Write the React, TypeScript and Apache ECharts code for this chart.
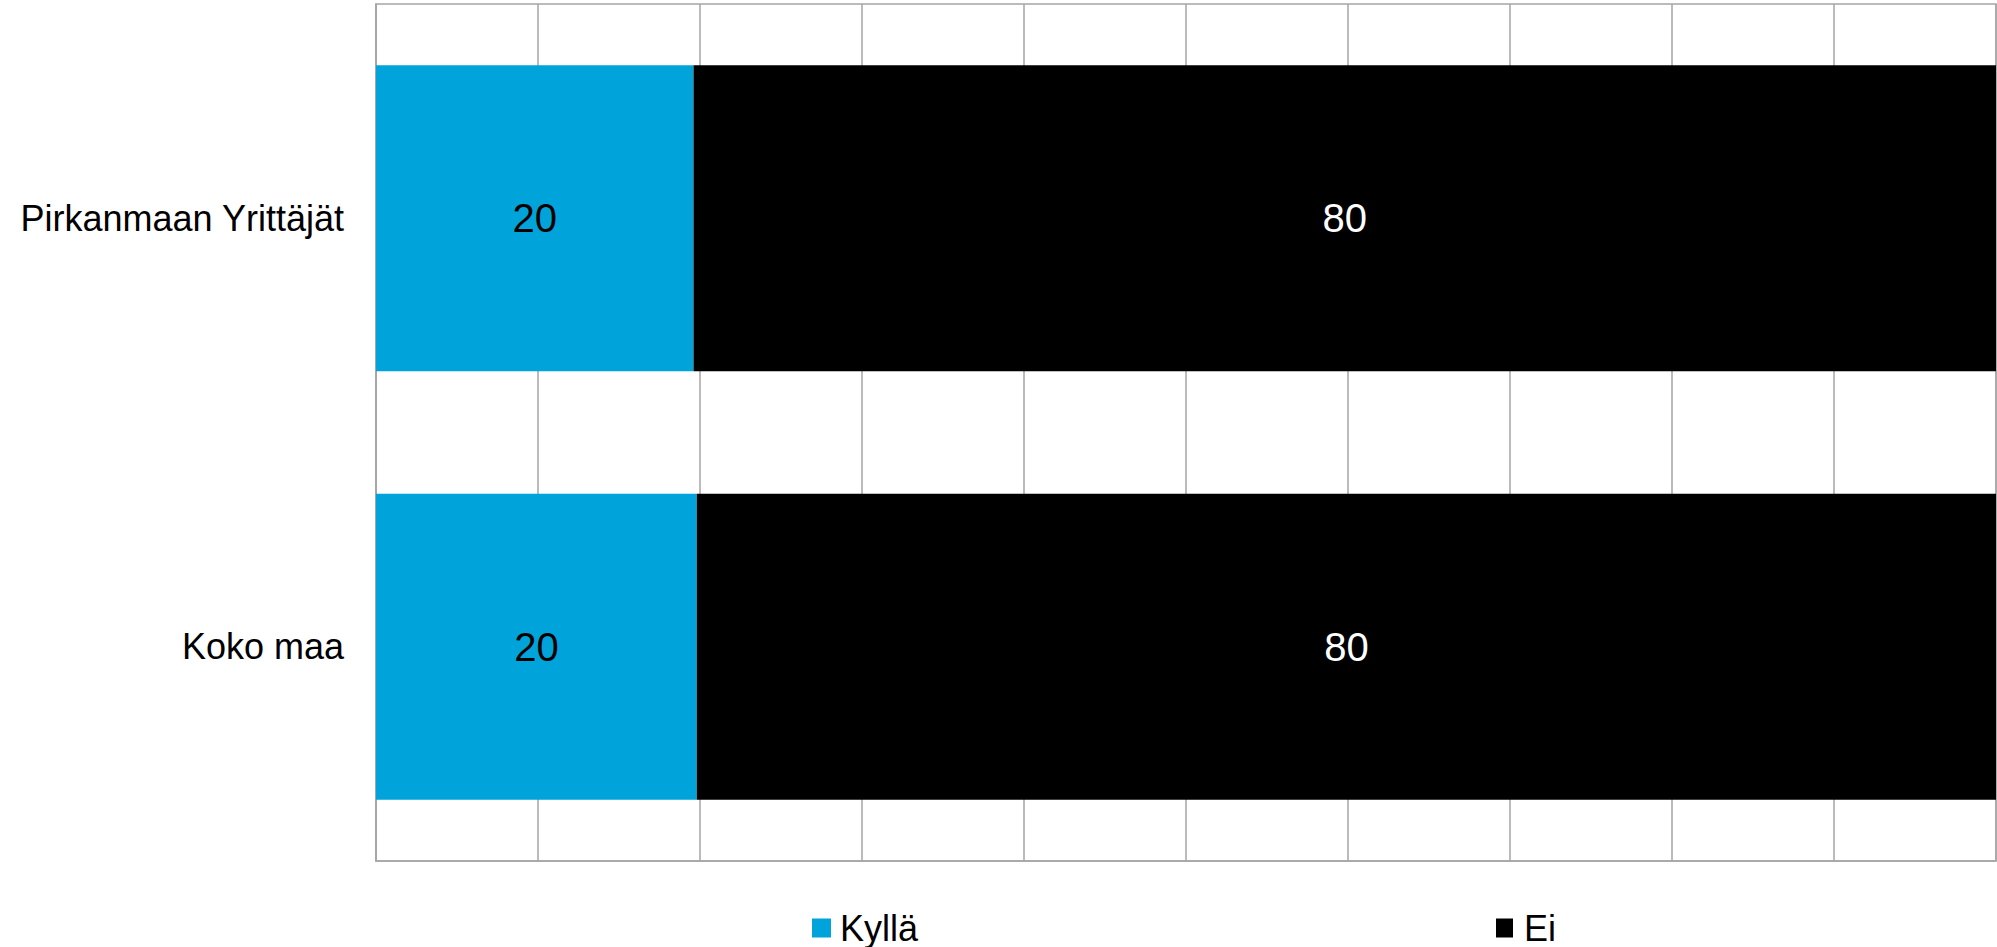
import React, { useEffect, useRef } from "react";
import * as echarts from "echarts";

const categories = ["Pirkanmaan Yrittäjät", "Koko maa"];
const kyllaValues = [19.6, 19.8];
const eiValues = [80.4, 80.2];
const seriesNames = ["Kyllä", "Ei"];
const xTicks = { min: 0, max: 100, interval: 10 };

const FONT = "'Liberation Sans', Arial, sans-serif";
const GRID_COLOR = "#A5A5A5";

export default function App() {
  const ref = useRef<HTMLDivElement>(null);

  useEffect(() => {
    document.body.style.margin = "0";
    if (!ref.current) return;
    const chart = echarts.init(ref.current, undefined, { renderer: "svg" });
    chart.setOption({
      animation: false,
      backgroundColor: "#ffffff",
      textStyle: { fontFamily: FONT },
      grid: {
        left: 376,
        right: 1,
        top: 4,
        bottom: 86,
        show: true,
        borderColor: GRID_COLOR,
        borderWidth: 1.5,
        containLabel: false,
      },
      legend: [
        {
          data: [seriesNames[0]],
          left: 807,
          top: 905,
          itemWidth: 19,
          itemHeight: 19,
          icon: "rect",
          textStyle: { fontSize: 36, lineHeight: 36, color: "#000", fontFamily: FONT, padding: [0, 0, 0, 4] },
        },
        {
          data: [seriesNames[1]],
          left: 1491,
          top: 905,
          itemWidth: 17,
          itemHeight: 19,
          icon: "rect",
          textStyle: { fontSize: 36, lineHeight: 36, color: "#000", fontFamily: FONT, padding: [0, 0, 0, 6] },
        },
      ],
      xAxis: {
        type: "value",
        min: xTicks.min,
        max: xTicks.max,
        interval: xTicks.interval,
        axisLabel: { show: false },
        axisTick: { show: false },
        axisLine: { show: true, lineStyle: { color: GRID_COLOR, width: 1.5 } },
        splitLine: { show: true, lineStyle: { color: GRID_COLOR, width: 1.5 } },
      },
      yAxis: {
        type: "category",
        data: categories,
        inverse: true,
        axisTick: { show: false },
        axisLine: { show: true, lineStyle: { color: GRID_COLOR, width: 1.5 } },
        axisLabel: { fontSize: 36, color: "#000", fontFamily: FONT, margin: 32 },
        splitLine: { show: false },
      },
      series: [
        {
          name: seriesNames[0],
          type: "bar",
          stack: "total",
          data: kyllaValues,
          barCategoryGap: "28.6%",
          itemStyle: { color: "#00A3DA" },
          label: {
            show: true,
            position: "inside",
            fontSize: 40,
            color: "#000",
            fontFamily: FONT,
            formatter: (p: any) => String(Math.round(p.value)),
          },
        },
        {
          name: seriesNames[1],
          type: "bar",
          stack: "total",
          data: eiValues,
          barCategoryGap: "28.6%",
          itemStyle: { color: "#000000" },
          label: {
            show: true,
            position: "inside",
            fontSize: 40,
            color: "#fff",
            fontFamily: FONT,
            formatter: (p: any) => String(Math.round(p.value)),
          },
        },
      ],
    });
    return () => chart.dispose();
  }, []);

  return <div ref={ref} style={{ width: 1997, height: 947 }} />;
}
